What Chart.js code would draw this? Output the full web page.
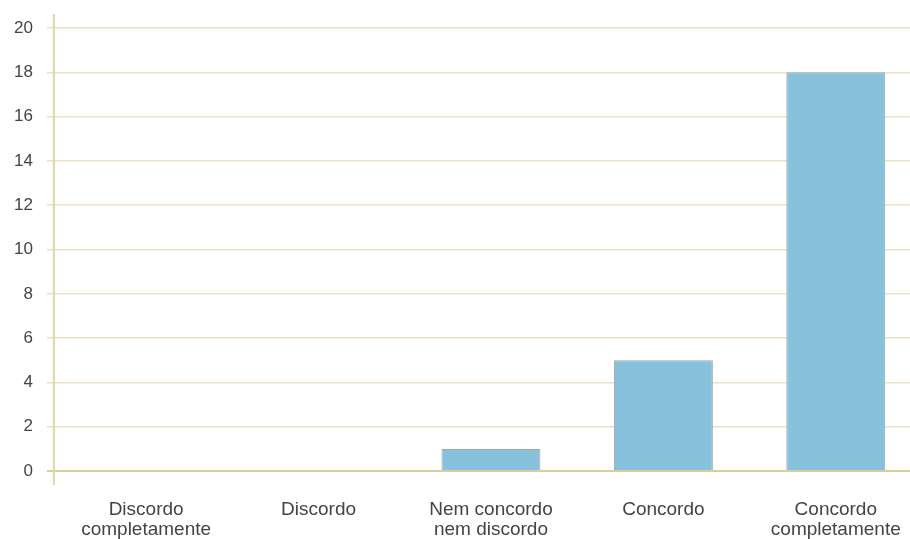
<!DOCTYPE html>
<html>
<head>
    <title>Respostas</title>
    <script src="https://cdn.jsdelivr.net/npm/chart.js"></script>
    <style>
        html, body { margin: 0; padding: 0; background: #fff; overflow: hidden; }
        .container { width: 930px; height: 539px; }
    </style>
</head>
<body>
<div class="container">
    <canvas id="barChart"></canvas>
</div>

<script>
    const categories = [
        ['Discordo', 'completamente'],
        'Discordo',
        ['Nem concordo', 'nem discordo'],
        'Concordo',
        ['Concordo', 'completamente']
    ];
    const counts = [0, 0, 1, 5, 18];
    const yTicks = [0, 2, 4, 6, 8, 10, 12, 14, 16, 18, 20];

    // vertical axis line sits a little left of the first category
    const axisLine = {
        id: 'axisLine',
        beforeDatasetsDraw(chart) {
            const { ctx, chartArea } = chart;
            const x = chartArea.left - 6;
            ctx.save();
            ctx.strokeStyle = '#dedaa6';
            ctx.lineWidth = 2;
            ctx.beginPath();
            ctx.moveTo(x, chartArea.top - 14);
            ctx.lineTo(x, chartArea.bottom + 14);
            ctx.stroke();
            ctx.restore();
        }
    };

    const ctx = document.getElementById('barChart').getContext('2d');
    new Chart(ctx, {
        type: 'bar',
        data: {
            labels: categories,
            datasets: [{
                data: counts,
                backgroundColor: '#88c1dc',
                borderColor: '#9aabab',
                borderWidth: 1,
                barPercentage: 1,
                categoryPercentage: 0.574
            }]
        },
        options: {
            responsive: true,
            maintainAspectRatio: false,
            animation: false,
            layout: { padding: { top: 28, right: 8, bottom: -22, left: 0 } },
            plugins: {
                legend: { display: false },
                tooltip: { enabled: false }
            },
            scales: {
                x: {
                    grid: { display: false },
                    border: { display: false },
                    ticks: {
                        color: '#444',
                        padding: 21,
                        maxRotation: 0,
                        font: { family: 'Liberation Sans, Arial, sans-serif', size: 19, lineHeight: 1.05 }
                    }
                },
                y: {
                    min: 0,
                    max: 20,
                    afterBuildTicks(scale) {
                        scale.ticks = yTicks.map(v => ({ value: v }));
                    },
                    border: { display: false },
                    grid: {
                        color: c => c.index === 0 ? '#d6d09a' : '#ecdfc6',
                        lineWidth: c => c.index === 0 ? 2 : 1.5,
                        tickLength: 13
                    },
                    ticks: {
                        color: '#444',
                        padding: 14,
                        font: { family: 'Liberation Sans, Arial, sans-serif', size: 17 }
                    }
                }
            }
        },
        plugins: [axisLine]
    });
</script>
</body>
</html>
